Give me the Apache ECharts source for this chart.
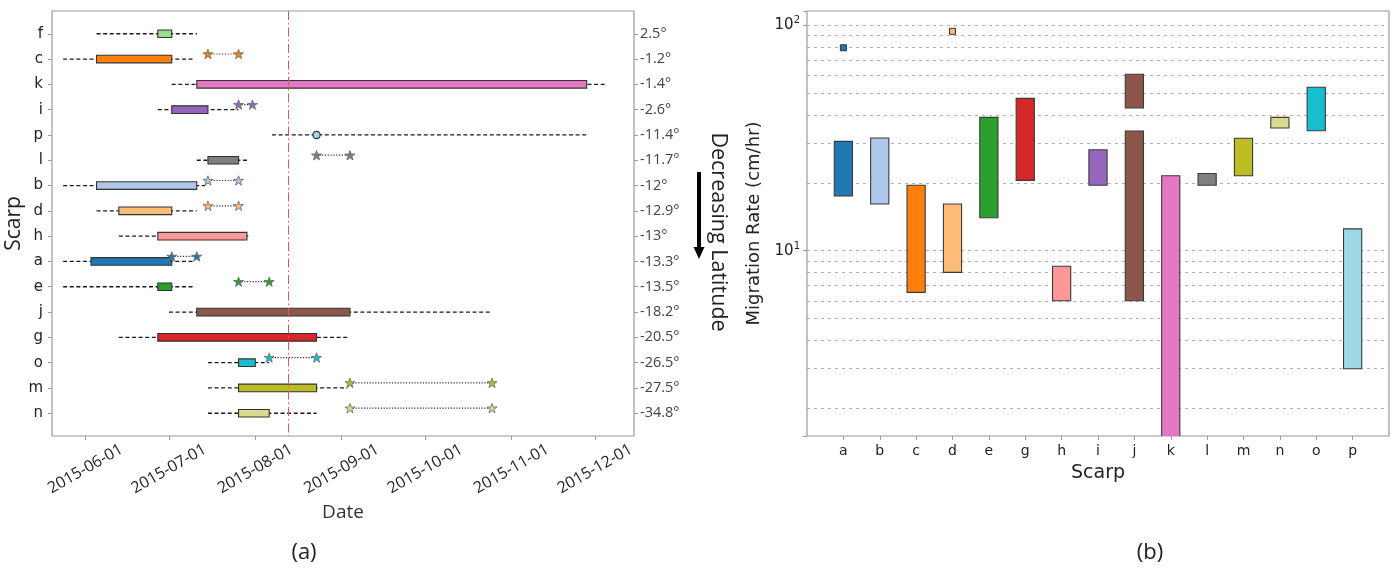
<!DOCTYPE html>
<html><head><meta charset="utf-8">
<script src="https://cdn.jsdelivr.net/npm/echarts@6/dist/echarts.min.js"></script>
<style>html,body{margin:0;padding:0;background:#fff}#c{width:1396px;height:569px}</style>
</head><body><div id="c"></div>
<script>
// ---------- Panel (a) data ----------
const scarps = ['f','c','k','i','p','l','b','d','h','a','e','j','g','o','m','n'];
const latitudes = ['2.5°','-1.2°','-1.4°','-2.6°','-11.4°','-11.7°','-12°','-12.9°','-13°','-13.3°','-13.5°','-18.2°','-20.5°','-26.5°','-27.5°','-34.8°'];
const dashStart = ['2015-06-05','2015-05-24','2015-07-02','2015-06-27','2015-08-07','2015-07-11','2015-05-24','2015-06-05','2015-06-13','2015-05-24','2015-05-24','2015-07-01','2015-06-13','2015-07-15','2015-07-15','2015-07-15'];
const dashEnd   = ['2015-07-11','2015-07-10','2015-12-05','2015-07-26','2015-11-28','2015-07-29','2015-07-14','2015-07-11','2015-07-30','2015-07-10','2015-07-10','2015-10-25','2015-09-03','2015-08-06','2015-09-03','2015-08-23'];
const barStart  = ['2015-06-27','2015-06-05','2015-07-11','2015-07-02','2015-08-23','2015-07-15','2015-06-05','2015-06-13','2015-06-27','2015-06-03','2015-06-27','2015-07-11','2015-06-27','2015-07-26','2015-07-26','2015-07-26'];
const barEnd    = ['2015-07-02','2015-07-02','2015-11-28','2015-07-15','2015-08-23','2015-07-26','2015-07-11','2015-07-02','2015-07-29','2015-07-02','2015-07-02','2015-09-04','2015-08-23','2015-08-01','2015-08-23','2015-08-06'];
const starStart = [null,'2015-07-15',null,'2015-07-26',null,'2015-08-23','2015-07-15','2015-07-15',null,'2015-07-02','2015-07-26',null,null,'2015-08-06','2015-09-04','2015-09-04'];
const starEnd   = [null,'2015-07-26',null,'2015-07-31',null,'2015-09-04','2015-07-26','2015-07-26',null,'2015-07-11','2015-08-06',null,null,'2015-08-23','2015-10-25','2015-10-25'];
const dateTicks = ['2015-06-01','2015-07-01','2015-08-01','2015-09-01','2015-10-01','2015-11-01','2015-12-01'];
const dateMin = '2015-05-20', dateMax = '2015-12-15';
const markerDate = '2015-08-13';

// ---------- Panel (b) data ----------
const rateScarps = ['a','b','c','d','e','g','h','i','j','k','l','m','n','o','p'];
const rateLow  = [17.5, 16.1, 6.54, 8.02, 14.0, 20.5, 6.0, 19.5, 6.0, 1.2, 19.5, 21.5, 35.0, 34.0, 3.0];
const rateHigh = [30.5, 31.6, 19.5, 16.1, 39.0, 47.3, 8.53, 28.0, 33.9, 21.5, 22.0, 31.5, 39.0, 53.0, 12.5];
const rateLow2  = [null,null,null,null,null,null,null,null,42.9,null,null,null,null,null,null];
const rateHigh2 = [null,null,null,null,null,null,null,null,60.5,null,null,null,null,null,null];
const ratePoint = [79.3,null,null,93.8,null,null,null,null,null,null,null,null,null,null,null];
const rateGrid = [2,3,4,5,6,7,8,9,10,20,30,40,50,60,70,80,90,100];

// ---------- styles ----------
const palette = {a:'#1f77b4',b:'#aec7e8',c:'#ff7f0e',d:'#ffbb78',e:'#2ca02c',f:'#98df8a',g:'#d62728',h:'#ff9896',i:'#9467bd',j:'#8c564b',k:'#e377c2',l:'#7f7f7f',m:'#bcbd22',n:'#dbdb8d',o:'#17becf',p:'#9edae5'};
const T = s => s == null ? NaN : +new Date(s + 'T00:00:00');
const pad = n => (n < 10 ? '0' : '') + n;
const fmtDate = v => { const d = new Date(v); return d.getFullYear() + '-' + pad(d.getMonth() + 1) + '-' + pad(d.getDate()); };
const STAR = 'path://M50,0 L61.8,35.1 L98.9,35.1 L68.8,57.3 L80.2,92.7 L50,71 L19.8,92.7 L31.2,57.3 L1.1,35.1 L38.2,35.1 Z';
const frame = '#9a9a9a';

const rangeData = scarps.map((s, i) => [i, T(dashStart[i]), T(dashEnd[i]), T(barStart[i]), T(barEnd[i]), T(starStart[i]), T(starEnd[i])]);
const starData = [];
scarps.forEach((s, i) => {
  if (starStart[i]) { starData.push({value:[T(starStart[i]), i - 0.2], itemStyle:{color:palette[s]}}); starData.push({value:[T(starEnd[i]), i - 0.2], itemStyle:{color:palette[s]}}); }
});

function renderRange(params, api) {
  const i = api.value(0);
  const s = scarps[i];
  const ch = [];
  const d0 = api.coord([api.value(1), i]), d1 = api.coord([api.value(2), i]);
  ch.push({type:'line', shape:{x1:d0[0], y1:d0[1], x2:d1[0], y2:d1[1]}, style:{stroke:'#1a1a1a', lineWidth:1.3, lineDash:[4,2.6]}});
  const b0 = api.coord([api.value(3), i - 0.15]), b1 = api.coord([api.value(4), i + 0.15]);
  const w = b1[0] - b0[0];
  if (w < 2) {
    ch.push({type:'circle', shape:{cx:(b0[0]+b1[0])/2, cy:(b0[1]+b1[1])/2, r:3.6}, style:{fill:palette[s], stroke:'#333', lineWidth:1.2}});
  } else {
    ch.push({type:'rect', shape:{x:b0[0], y:b0[1], width:w, height:b1[1]-b0[1]}, style:{fill:palette[s], stroke:'#333', lineWidth:1.1}});
  }
  const ss = api.value(5), se = api.value(6);
  if (!isNaN(ss) && !isNaN(se)) {
    const p0 = api.coord([ss, i - 0.2]), p1 = api.coord([se, i - 0.2]);
    ch.push({type:'line', shape:{x1:p0[0], y1:p0[1], x2:p1[0], y2:p1[1]}, style:{stroke:'#333', lineWidth:1.2, lineDash:[1.2,1.6]}});
  }
  return {type:'group', children:ch};
}

const rateData = [];
rateScarps.forEach((s, i) => {
  rateData.push([i, rateLow[i], rateHigh[i]]);
  if (rateLow2[i] != null) rateData.push([i, rateLow2[i], rateHigh2[i]]);
});
const pointData = [];
rateScarps.forEach((s, i) => { if (ratePoint[i] != null) pointData.push({value:[i, ratePoint[i]], itemStyle:{color:palette[s]}}); });

function renderRate(params, api) {
  const x = api.value(0);
  const s = rateScarps[x];
  const p0 = api.coord([x - 0.25, api.value(2)]);
  const p1 = api.coord([x + 0.25, api.value(1)]);
  return {type:'rect', shape:{x:p0[0], y:p0[1], width:p1[0]-p0[0], height:p1[1]-p0[1]}, style:{fill:palette[s], stroke:'#3a3a3a', lineWidth:1.1}};
}

const idx16 = scarps.map((s, i) => i);
const idx15 = rateScarps.map((s, i) => i);
const tickTimes = dateTicks.map(T);

const chart = echarts.init(document.getElementById('c'), null, {renderer:'canvas'});
chart.setOption({
  animation: false,
  backgroundColor: '#fff',
  grid: [
    {left:52, right:762, top:11, bottom:133, show:true, borderColor:frame, borderWidth:1.2},
    {left:807, right:7, top:11, bottom:133, show:true, borderColor:frame, borderWidth:1.2}
  ],
  xAxis: [
    {type:'value', gridIndex:0, min:T(dateMin), max:T(dateMax), scale:true,
     name:'Date', nameLocation:'middle', nameGap:66,
     nameTextStyle:{fontFamily:'Open Sans', fontSize:19, color:'#333'},
     axisLine:{show:false, onZero:false}, splitLine:{show:false},
     axisTick:{show:true, length:4, lineStyle:{color:frame}, customValues: tickTimes},
     axisLabel:{customValues: tickTimes, rotate:30, align:'center', verticalAlign:'middle', margin:33,
       fontFamily:'Open Sans', fontSize:16, color:'#222', formatter: v => fmtDate(v)}},
    {type:'value', gridIndex:1, min:-1, max:15, interval:1,
     name:'Scarp', nameLocation:'middle', nameGap:28,
     nameTextStyle:{fontFamily:'DejaVu Sans', fontSize:19, color:'#222'},
     axisLine:{show:false, onZero:false}, splitLine:{show:false},
     axisTick:{show:true, length:4, lineStyle:{color:frame}, customValues: idx15},
     axisLabel:{customValues: idx15, margin:8, fontFamily:'DejaVu Sans', fontSize:14, color:'#222',
       formatter: v => rateScarps[v] || ''}}
  ],
  yAxis: [
    {type:'value', gridIndex:0, inverse:true, min:-0.9, max:15.9, position:'left',
     name:'Scarp', nameLocation:'middle', nameGap:23, nameRotate:90,
     nameTextStyle:{fontFamily:'Open Sans', fontSize:21, color:'#222'},
     axisLine:{show:false, onZero:false}, splitLine:{show:false},
     axisTick:{show:true, length:4, lineStyle:{color:frame}, customValues: idx16},
     axisLabel:{customValues: idx16, margin:9, fontFamily:'DejaVu Sans', fontSize:15, color:'#222',
       formatter: v => scarps[v] || ''}},
    {type:'value', gridIndex:0, inverse:true, min:-0.9, max:15.9, position:'right',
     axisLine:{show:false, onZero:false}, splitLine:{show:false},
     axisTick:{show:true, length:4, lineStyle:{color:frame}, customValues: idx16},
     axisLabel:{customValues: idx16, margin:6, fontFamily:'Open Sans', fontSize:14.5, color:'#444',
       formatter: v => latitudes[v] || ''}},
    {type:'log', logBase:10, gridIndex:1, min:1.51, max:115.4,
     name:'Migration Rate (cm/hr)', nameLocation:'middle', nameGap:44, nameRotate:90,
     nameTextStyle:{fontFamily:'DejaVu Sans', fontSize:18, color:'#222'},
     axisLine:{show:false, onZero:false}, splitLine:{show:false},
     axisTick:{show:true, length:4, lineStyle:{color:frame}},
     axisLabel:{margin:7, color:'#222',
       formatter: v => { const e = Math.log10(v); return Math.abs(e - Math.round(e)) < 1e-6 ? '{b|10}{s|' + Math.round(e) + '}' : ''; },
       rich:{b:{fontFamily:'DejaVu Sans', fontSize:15, color:'#222'}, s:{fontFamily:'DejaVu Sans', fontSize:10, color:'#222', verticalAlign:'top', padding:[0,0,9,0]}}}}
  ],
  series: [
    {type:'custom', name:'ranges', xAxisIndex:0, yAxisIndex:0, renderItem:renderRange, data:rangeData, clip:true, z:2},
    {type:'scatter', name:'stars', xAxisIndex:0, yAxisIndex:0, data:starData, symbol:STAR, symbolKeepAspect:true, symbolSize:10,
     itemStyle:{borderColor:'#666', borderWidth:0.8, opacity:1}, z:3,
     markLine:{silent:true, symbol:'none', z:10, label:{show:false},
       lineStyle:{color:'#e0595a', width:1, type:[9,3,1.5,3]},
       data:[{xAxis:T(markerDate)}]}},
    {type:'custom', name:'rates', xAxisIndex:1, yAxisIndex:2, renderItem:renderRate, data:rateData, clip:true, z:3},
    {type:'scatter', name:'points', xAxisIndex:1, yAxisIndex:2, data:pointData, symbol:'rect', symbolSize:6,
     itemStyle:{borderColor:'#333', borderWidth:1, opacity:1}, z:4,
     markLine:{silent:true, symbol:'none', z:1, label:{show:false}, animation:false,
       lineStyle:{color:'#b0b0b0', width:1, type:[3,4]},
       data: rateGrid.map(v => ({yAxis:v}))}}
  ],
  graphic: [
    {type:'text', x:718, y:232, rotation:-Math.PI/2, style:{text:'Decreasing Latitude', fontFamily:'Open Sans', fontSize:21.5, fill:'#222', align:'center', verticalAlign:'middle'}},
    {type:'line', shape:{x1:699, y1:172, x2:699, y2:250}, style:{stroke:'#000', lineWidth:4}},
    {type:'polygon', shape:{points:[[693.5,247],[704.5,247],[699,259]]}, style:{fill:'#000'}},
    {type:'text', x:304, y:553, style:{text:'(a)', fontFamily:'Open Sans', fontSize:22, fill:'#222', align:'center', verticalAlign:'middle'}},
    {type:'text', x:1150, y:553, style:{text:'(b)', fontFamily:'Open Sans', fontSize:22, fill:'#222', align:'center', verticalAlign:'middle'}}
  ]
});
</script></body></html>
